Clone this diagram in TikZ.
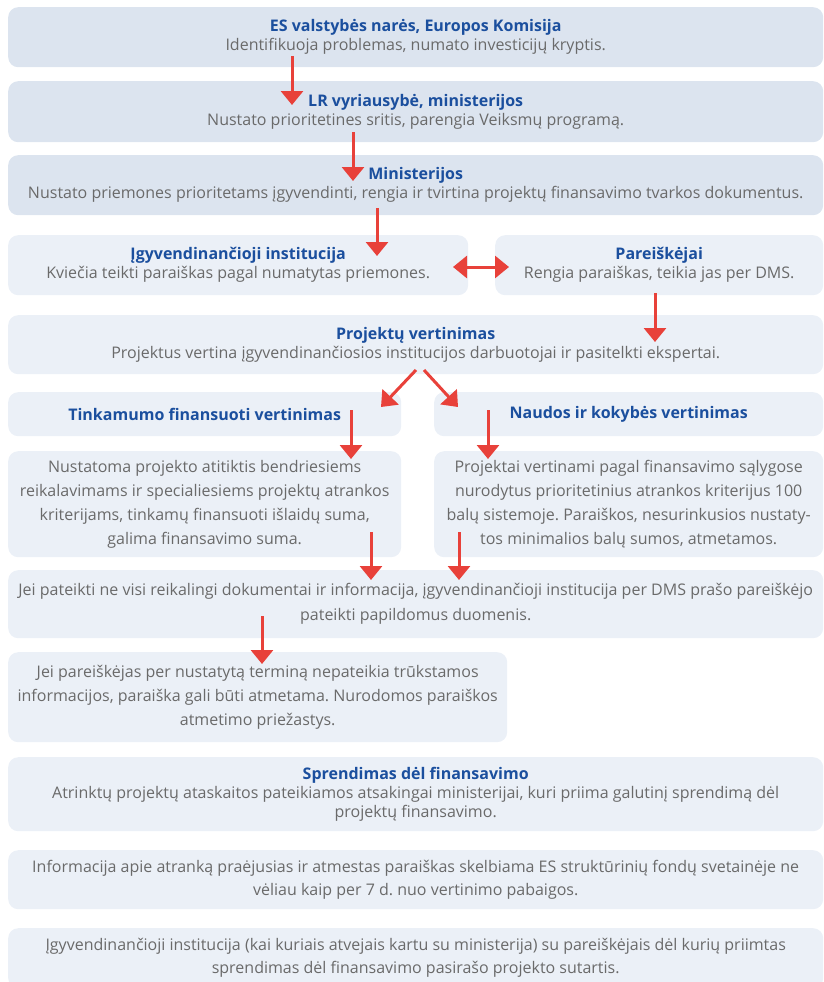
\documentclass[tikz,border=0pt]{standalone}
\usepackage{fontspec}
\setmainfont{Open Sans}
\usetikzlibrary{arrows.meta}
\definecolor{boxdark}{HTML}{DCE4EF}
\definecolor{boxlight}{HTML}{EBF0F7}
\definecolor{titleblue}{HTML}{1B4F9E}
\definecolor{bodygray}{HTML}{6A6A6A}
\definecolor{arrred}{HTML}{E8413A}
\tikzset{
  box/.style={rounded corners=10pt, inner sep=0pt, align=center, text=bodygray,
    font=\fontsize{16}{19}\selectfont\frenchspacing, anchor=north west},
  dark/.style={box, fill=boxdark},
  light/.style={box, fill=boxlight},
  flow/.style={draw=arrred, line width=3pt, -{Triangle[width=22pt,length=14pt]}},
  flowtwo/.style={draw=arrred, line width=3pt, {Triangle[width=22pt,length=14pt]}-{Triangle[width=22pt,length=14pt]}},
}
\newcommand{\ttl}[1]{\textcolor{titleblue}{\textbf{#1}}}
\begin{document}
\begin{tikzpicture}[x=1pt,y=-1pt]
\useasboundingbox (0,0) rectangle (823,982);
% boxes
\node[dark, minimum width=815pt, minimum height=60pt] (b1) at (8,7)
  {\ttl{ES valstybės narės, Europos Komisija}\\Identifikuoja problemas, numato investicijų kryptis.};
\node[dark, minimum width=815pt, minimum height=61pt] (b2) at (8,81)
  {\ttl{LR vyriausybė, ministerijos}\\Nustato prioritetines sritis, parengia Veiksmų programą.};
\node[dark, minimum width=815pt, minimum height=60pt] (b3) at (8,155)
  {\ttl{Ministerijos}\\Nustato priemones prioritetams įgyvendinti, rengia ir tvirtina projektų finansavimo tvarkos dokumentus.};
\node[light, minimum width=460pt, minimum height=60pt] (b4l) at (8,235)
  {\ttl{Įgyvendinančioji institucija}\\Kviečia teikti paraiškas pagal numatytas priemones.};
\node[light, minimum width=328pt, minimum height=60pt] (b4r) at (495,235)
  {\ttl{Pareiškėjai}\\Rengia paraiškas, teikia jas per DMS.};
\node[light, minimum width=815pt, minimum height=59pt] (b5) at (8,315)
  {\ttl{Projektų vertinimas}\\Projektus vertina įgyvendinančiosios institucijos darbuotojai ir pasitelkti ekspertai.};
\node[light, minimum width=393pt, minimum height=44pt] (b6l) at (8,392)
  {\ttl{Tinkamumo finansuoti vertinimas}};
\node[light, minimum width=389pt, minimum height=44pt] (b6r) at (434,392)
  {\ttl{Naudos ir kokybės vertinimas}};
\node[light, minimum width=393pt, minimum height=106pt, font=\fontsize{16}{24}\selectfont\frenchspacing] (b7l) at (8,451)
  {Nustatoma projekto atitiktis bendriesiems\\reikalavimams ir specialiesiems projektų atrankos\\kriterijams, tinkamų finansuoti išlaidų suma,\\galima finansavimo suma.};
\node[light, minimum width=389pt, minimum height=106pt, font=\fontsize{16}{24}\selectfont\frenchspacing] (b7r) at (434,451)
  {Projektai vertinami pagal finansavimo sąlygose\\nurodytus prioritetinius atrankos kriterijus 100\\balų sistemoje. Paraiškos, nesurinkusios nustaty-\\tos minimalios balų sumos, atmetamos.};
\node[light, minimum width=815pt, minimum height=68pt, font=\fontsize{16}{25}\selectfont\frenchspacing] (b8) at (8,570)
  {Jei pateikti ne visi reikalingi dokumentai ir informacija, įgyvendinančioji institucija per DMS prašo pareiškėjo\\pateikti papildomus duomenis.};
\node[light, minimum width=499pt, minimum height=90pt, font=\fontsize{16}{24}\selectfont\frenchspacing] (b9) at (8,652)
  {Jei pareiškėjas per nustatytą terminą nepateikia trūkstamos\\informacijos, paraiška gali būti atmetama. Nurodomos paraiškos\\atmetimo priežastys.};
\node[light, minimum width=815pt, minimum height=74pt] (b10) at (8,757)
  {\ttl{Sprendimas dėl finansavimo}\\Atrinktų projektų ataskaitos pateikiamos atsakingai ministerijai, kuri priima galutinį sprendimą dėl\\projektų finansavimo.};
\node[light, minimum width=815pt, minimum height=59pt, font=\fontsize{16}{23}\selectfont\frenchspacing] (b11) at (8,850)
  {Informacija apie atranką praėjusias ir atmestas paraiškas skelbiama ES struktūrinių fondų svetainėje ne\\vėliau kaip per 7 d. nuo vertinimo pabaigos.};
\node[light, minimum width=815pt, minimum height=60pt, font=\fontsize{16}{23}\selectfont\frenchspacing] (b12) at (8,928)
  {Įgyvendinančioji institucija (kai kuriais atvejais kartu su ministerija) su pareiškėjais dėl kurių priimtas\\sprendimas dėl finansavimo pasirašo projekto sutartis.};
% arrow coordinates
\coordinate (a1s) at (292,56);   \coordinate (a1e) at (292,105);
\coordinate (a2s) at (353,132);  \coordinate (a2e) at (353,181);
\coordinate (a3s) at (377,208);  \coordinate (a3e) at (377,256);
\coordinate (dl) at (453,267);   \coordinate (dr) at (509,267);
\coordinate (a4s) at (655,293);  \coordinate (a4e) at (655,342);
\coordinate (d1s) at (416,370);  \coordinate (d1e) at (381,407);
\coordinate (d2s) at (424,370);  \coordinate (d2e) at (458,407);
\coordinate (a5s) at (351,410);  \coordinate (a5e) at (351,459);
\coordinate (a6s) at (488,410);  \coordinate (a6e) at (488,459);
\coordinate (a7s) at (371,532);  \coordinate (a7e) at (371,580);
\coordinate (a8s) at (459,532);  \coordinate (a8e) at (459,580);
\coordinate (a9s) at (262,616);  \coordinate (a9e) at (262,664);
% arrows
\draw[flow] (a1s) -- (a1e);
\draw[flow] (a2s) -- (a2e);
\draw[flow] (a3s) -- (a3e);
\draw[flowtwo] (dl) -- (dr);
\draw[flow] (a4s) -- (a4e);
\draw[flow] (d1s) -- (d1e);
\draw[flow] (d2s) -- (d2e);
\draw[flow] (a5s) -- (a5e);
\draw[flow] (a6s) -- (a6e);
\draw[flow] (a7s) -- (a7e);
\draw[flow] (a8s) -- (a8e);
\draw[flow] (a9s) -- (a9e);
\end{tikzpicture}
\end{document}
